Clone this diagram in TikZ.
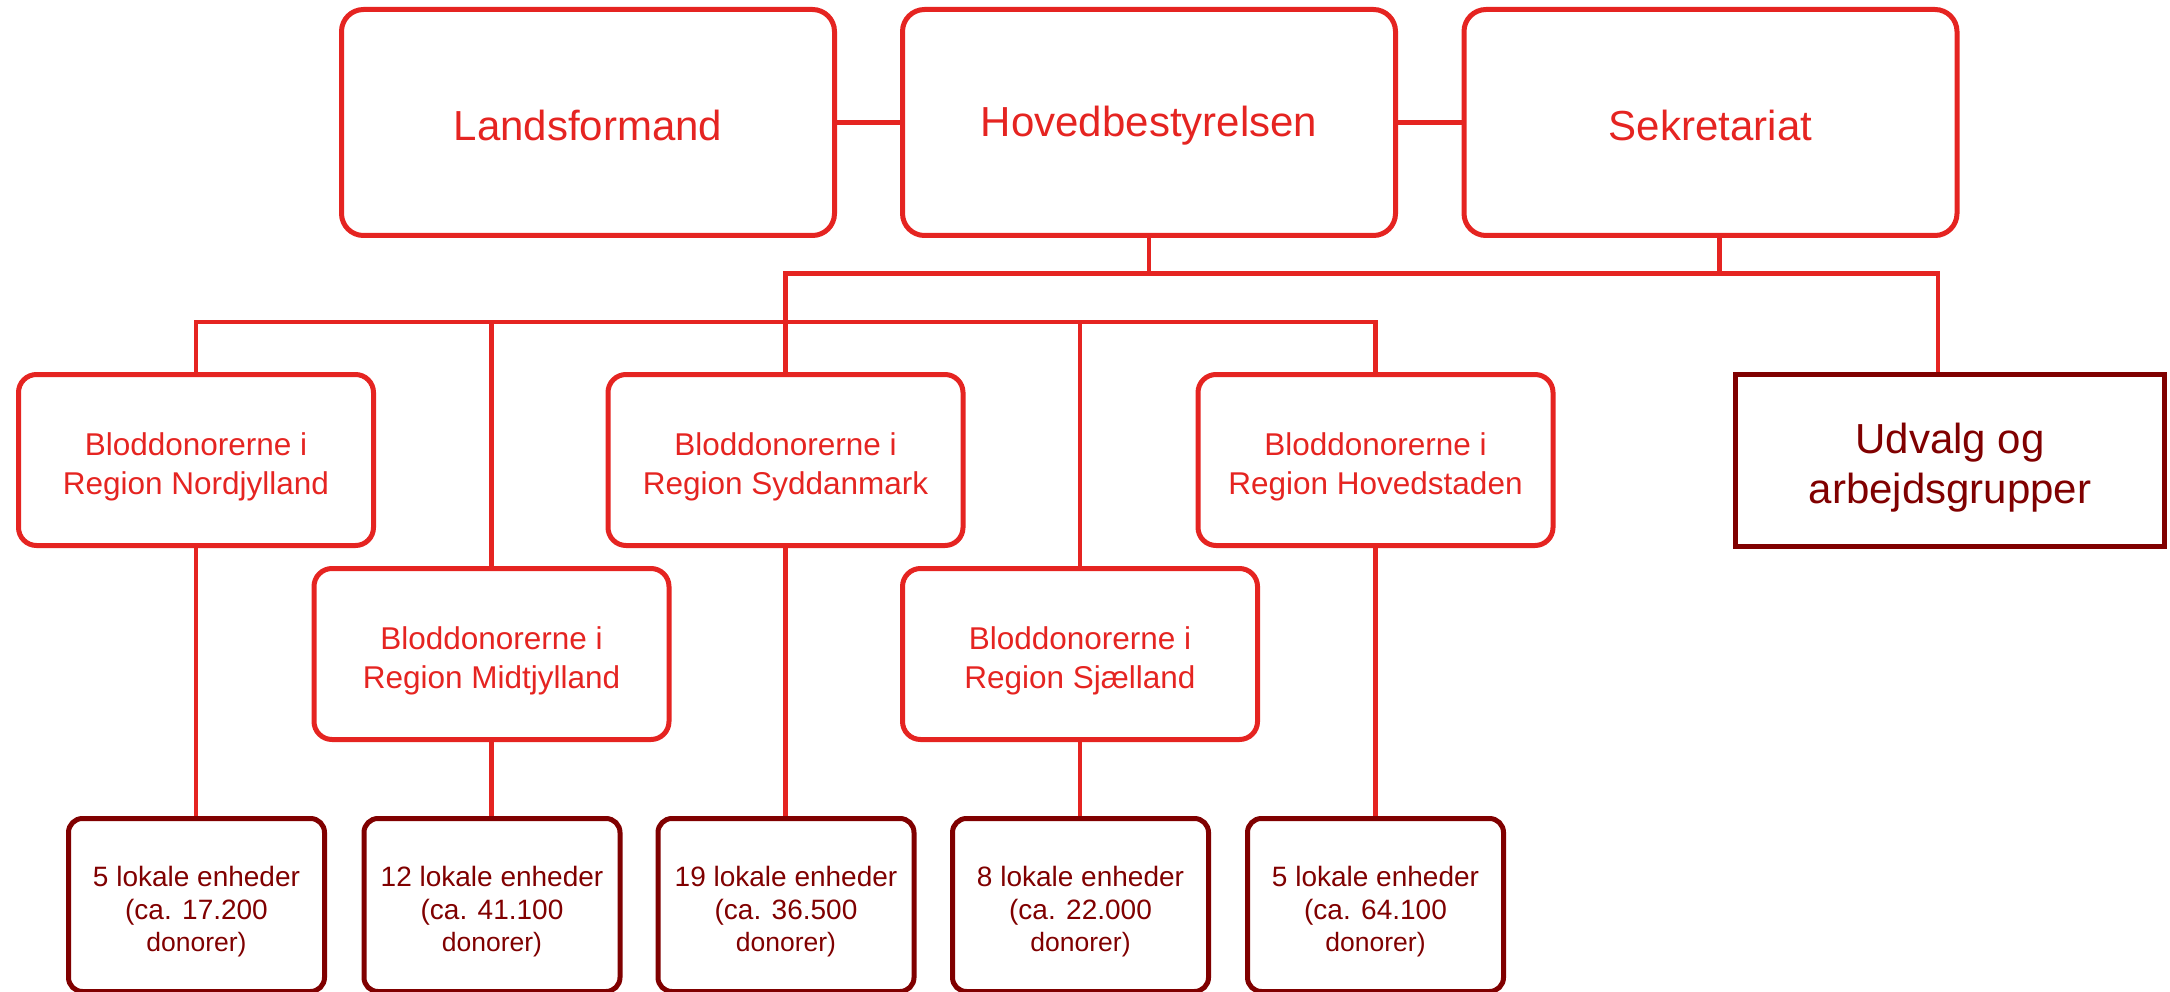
\documentclass[tikz,border=0pt]{standalone}
\usepackage{fontspec}
\setmainfont{Liberation Sans}
\definecolor{bred}{HTML}{E52421}
\definecolor{dred}{HTML}{800000}
\tikzset{
  topbox/.style={draw=bred, line width=5pt, rounded corners=22pt, minimum width=493pt, minimum height=226pt, inner sep=0pt},
  toptext/.style={text=bred, font=\fontsize{42}{50}\selectfont, inner sep=0pt},
  regbox/.style={draw=bred, line width=5pt, rounded corners=18pt, minimum width=355pt, minimum height=171pt, inner sep=0pt},
  regtext/.style={text=bred, align=center, font=\fontsize{31.5}{39.5}\selectfont, inner sep=0pt},
  udvbox/.style={draw=dred, line width=5pt, minimum width=429pt, minimum height=172pt, inner sep=0pt},
  udvtext/.style={text=dred, align=center, font=\fontsize{42}{50}\selectfont, inner sep=0pt},
  unitbox/.style={draw=dred, line width=5pt, rounded corners=14pt, minimum width=256pt, minimum height=173pt, inner sep=0pt},
  unittext/.style={text=dred, align=center, font=\fontsize{28}{32.5}\selectfont, inner sep=0pt},
  conn/.style={draw=bred, line width=4.5pt, line join=miter}
}
\newcommand{\smallln}[1]{{\fontsize{26.5}{32.5}\selectfont #1}}
\begin{document}
\begin{tikzpicture}[x=1pt,y=-1pt]
\useasboundingbox (0,0) rectangle (2170,992);
\clip (0,0) rectangle (2170,992);
% top row
\node[topbox] (lands) at (588,122.5) {};
\node[topbox] (hoved) at (1149,122.5) {};
\node[topbox] (sekr) at (1710.5,122.5) {};
\node[toptext] (landst) at ([yshift=-3pt]lands.center) {Landsformand};
\node[toptext] (hovedt) at ([yshift=-3pt]hoved.center) {Hovedbestyrelsen};
\node[toptext] (sekrt) at ([yshift=-3pt]sekr.center) {Sekretariat};
% regions
\node[regbox] (nord) at (196,460) {};
\node[regbox] (syd) at (785.5,460) {};
\node[regbox] (hov) at (1375.5,460) {};
\node[regbox] (midt) at (491.5,654) {};
\node[regbox] (sja) at (1080,654) {};
\node[udvbox] (udv) at (1950,460.5) {};
\node[regtext] (nordt) at ([yshift=-7pt]nord.center) {Bloddonorerne i\\Region Nordjylland};
\node[regtext] (sydt) at ([yshift=-7pt]syd.center) {Bloddonorerne i\\Region Syddanmark};
\node[regtext] (hovt) at ([yshift=-7pt]hov.center) {Bloddonorerne i\\Region Hovedstaden};
\node[regtext] (midtt) at ([yshift=-7pt]midt.center) {Bloddonorerne i\\Region Midtjylland};
\node[regtext] (sjat) at ([yshift=-7pt]sja.center) {Bloddonorerne i\\Region Sjælland};
\node[udvtext] (udvt) at ([yshift=-7pt]udv.center) {Udvalg og\\arbejdsgrupper};
% local units
\node[unitbox] (u1) at (196.5,905) {};
\node[unitbox] (u2) at (492,905) {};
\node[unitbox] (u3) at (786,905) {};
\node[unitbox] (u4) at (1080.5,905) {};
\node[unitbox] (u5) at (1375.5,905) {};
\node[unittext] (u1t) at ([yshift=-7pt]u1.center) {5 lokale enheder\\(ca. 17.200\\\smallln{donorer)}};
\node[unittext] (u2t) at ([yshift=-7pt]u2.center) {12 lokale enheder\\(ca. 41.100\\\smallln{donorer)}};
\node[unittext] (u3t) at ([yshift=-7pt]u3.center) {19 lokale enheder\\(ca. 36.500\\\smallln{donorer)}};
\node[unittext] (u4t) at ([yshift=-7pt]u4.center) {8 lokale enheder\\(ca. 22.000\\\smallln{donorer)}};
\node[unittext] (u5t) at ([yshift=-7pt]u5.center) {5 lokale enheder\\(ca. 64.100\\\smallln{donorer)}};
% bus levels
\coordinate (busA) at (0,273.5);
\coordinate (busB) at (0,322);
% connectors
\draw[conn] (lands.east) -- (hoved.west);
\draw[conn] (hoved.east) -- (sekr.west);
\draw[conn] (hoved.south) -- (hoved.south |- busA);
\draw[conn] ([xshift=9pt]sekr.south) -- ([xshift=9pt]sekr.south |- busA);
\draw[conn] (syd.north) -- (syd.north |- busA) -- ([xshift=-12pt]udv.north |- busA) -- ([xshift=-12pt]udv.north);
\draw[conn] (nord.north) -- (nord.north |- busB) -- (hov.north |- busB) -- (hov.north);
\draw[conn] (midt.north) -- (midt.north |- busB);
\draw[conn] (sja.north) -- (sja.north |- busB);
\draw[conn] (nord.south) -- (nord.south |- u1.north);
\draw[conn] (midt.south) -- (midt.south |- u2.north);
\draw[conn] (syd.south) -- (syd.south |- u3.north);
\draw[conn] (sja.south) -- (sja.south |- u4.north);
\draw[conn] (hov.south) -- (hov.south |- u5.north);
\end{tikzpicture}
\end{document}
